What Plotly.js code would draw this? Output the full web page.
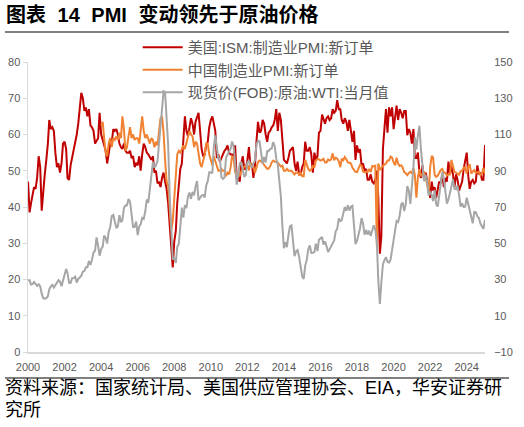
<!DOCTYPE html>
<html>
<head>
<meta charset="utf-8">
<script src="https://cdn.plot.ly/plotly-3.0.1.min.js"></script>
<style>
  body { margin: 0; background: #fff; }
  #page { position: relative; width: 524px; height: 427px; overflow: hidden; background: #fff;
          font-family: "Liberation Sans", "Noto Sans CJK SC", sans-serif; }
  #title { position: absolute; left: 6px; top: 4px; font-size: 20px; line-height: 22px; font-weight: bold; color: #000; word-spacing: 6px; }
  .rule { position: absolute; left: 5px; width: 504px; height: 2px; background: #808080; }
  #source { position: absolute; left: 5px; top: 378px; font-size: 18px; line-height: 21.5px; color: #000; }
  #chart { position: absolute; left: 0; top: 0; width: 524px; height: 427px; }
</style>
</head>
<body>
<div id="page">
  <div id="chart"></div>
  <div id="title">图表 14 PMI 变动领先于原油价格</div>
  <div class="rule" style="top:31px"></div>
  <div class="rule" style="top:377px"></div>
  <div id="source">资料来源：国家统计局、美国供应管理协会、EIA，华安证券研<br>究所</div>
</div>
<script>
// PMI 变动领先于原油价格

// year labels; each one sits at the end of its year, as in the source chart
var tickLabels = ["2000", "2002", "2004", "2006", "2008", "2010", "2012",
                  "2014", "2016", "2018", "2020", "2022", "2024"];

// 美国:ISM:制造业PMI:新订单, monthly from 2001-01
var usNewOrders = [
  47.0, 38.5, 41.0, 44.0, 45.5, 45.0, 48.0, 54.0, 51.0, 39.0, 45.5, 49.0,
  53.0, 57.5, 64.0, 61.5, 62.0, 61.0, 55.0, 51.0, 52.0, 49.5, 52.0, 57.5,
  58.0, 56.0, 48.0, 47.5, 51.5, 53.5, 56.0, 58.0, 60.0, 63.0, 66.5, 71.5,
  70.0, 66.5, 67.5, 65.0, 67.0, 62.5, 62.0, 61.0, 57.5, 58.5, 59.0, 66.0,
  60.0, 58.5, 57.0, 55.5, 52.0, 54.5, 57.5, 58.0, 61.5, 61.0, 61.5, 60.0,
  57.5, 56.5, 56.0, 57.5, 55.5, 55.0, 55.0, 55.5, 53.5, 54.0, 51.0, 52.0,
  51.5, 54.0, 50.0, 54.5, 57.5, 56.5, 55.0, 54.5, 53.5, 53.0, 54.0, 49.5,
  50.0, 46.5, 47.0, 45.5, 48.0, 49.5, 47.0, 45.0, 41.0, 36.0, 29.0, 23.3,
  30.5, 33.5, 41.0, 47.0, 50.5, 52.0, 58.0, 65.0, 61.0, 59.5, 62.0, 64.5,
  63.0, 60.0, 63.5, 65.0, 66.0, 61.0, 56.0, 54.0, 54.5, 57.0, 58.0, 62.0,
  64.0, 65.0, 62.5, 61.0, 53.5, 54.5, 52.5, 53.5, 55.0, 55.5, 56.0, 57.0,
  55.0, 54.5, 54.5, 54.0, 57.0, 48.0, 48.0, 47.0, 52.0, 54.0, 50.5, 50.5,
  53.0, 56.5, 51.5, 52.0, 48.0, 51.5, 58.0, 63.5, 60.5, 61.0, 64.0, 63.0,
  60.0, 58.0, 60.5, 61.0, 62.0, 62.5, 64.0, 67.0, 61.0, 66.0, 64.0, 58.0,
  53.0, 52.5, 52.0, 53.5, 55.5, 56.0, 56.5, 52.0, 50.0, 52.5, 49.0, 49.0,
  51.0, 52.0, 58.0, 55.5, 55.5, 56.5, 54.5, 49.5, 55.0, 53.0, 54.0, 60.5,
  61.0, 65.5, 64.0, 63.0, 64.5, 65.0, 64.0, 64.5, 67.0, 66.0, 66.5, 69.5,
  67.0, 67.0, 64.0, 63.0, 64.5, 63.5, 61.0, 64.0, 61.0, 58.0, 61.0, 53.0,
  57.0, 55.0, 56.0, 51.5, 52.0, 50.0, 50.5, 47.5, 47.5, 49.0, 47.0, 46.5,
  47.5, 50.0, 42.5, 27.1, 32.0, 56.0, 61.5, 67.0, 60.5, 67.5, 65.0, 67.5,
  61.5, 64.5, 68.0, 64.0, 67.0, 66.0, 64.5, 66.5, 66.5, 59.8, 61.5, 60.5,
  57.5, 61.5, 53.5, 53.5, 55.0, 49.5, 48.0, 51.5, 47.5, 49.5, 47.5, 45.5,
  42.5, 47.0, 44.5, 45.5, 42.5, 45.5, 47.0, 46.5, 49.0, 45.5, 48.0, 47.0,
  52.5, 49.0, 51.5, 49.0, 45.5, 49.0, 47.5, 44.5, 46.0, 47.0, 50.5, 52.5,
  55.0, 48.5, 45.0, 47.0, 47.5, 46.5, 47.0, 51.5, 49.0, 49.5, 47.5, 47.5,
  57.1
];

// 中国制造业PMI:新订单, monthly from 2005-01
var cnNewOrders = [
  62.5, 63.5, 59.0, 55.0, 54.0, 57.5, 59.0, 56.5, 59.0, 58.5, 59.5, 58.5,
  60.5, 59.0, 65.0, 61.5, 55.5, 56.5, 59.5, 62.0, 59.0, 60.0, 58.5, 59.0,
  59.0, 57.5, 61.0, 65.0, 61.0, 59.0, 60.0, 58.5, 57.5, 59.0, 58.5, 56.5,
  58.0, 57.0, 61.0, 64.5, 65.0, 60.5, 53.0, 47.0, 46.0, 41.0, 33.5, 36.0,
  43.0, 50.5, 54.5, 55.5, 55.0, 56.0, 57.0, 56.0, 57.5, 59.5, 61.0, 60.0,
  59.5, 56.5, 58.0, 57.5, 54.5, 52.0, 51.0, 52.5, 54.5, 57.5, 57.5, 54.5,
  53.0, 51.5, 54.0, 52.5, 51.0, 50.0, 50.0, 50.5, 50.0, 50.0, 48.5, 49.5,
  49.0, 51.0, 54.0, 53.5, 49.5, 49.2, 49.0, 48.7, 49.8, 50.4, 51.2, 51.2,
  51.6, 50.1, 52.3, 51.0, 51.1, 49.4, 50.6, 52.4, 52.8, 52.5, 52.3, 51.6,
  50.9, 50.5, 50.6, 51.2, 52.3, 52.8, 52.5, 52.5, 52.2, 51.6, 51.2, 51.4,
  50.0, 50.0, 50.5, 50.0, 50.0, 50.0, 49.5, 49.0, 49.5, 49.5, 49.0, 49.5,
  48.5, 48.5, 53.0, 51.5, 50.5, 50.0, 50.4, 51.3, 50.9, 52.8, 53.2, 53.2,
  52.8, 53.0, 53.3, 52.3, 52.3, 53.1, 52.8, 53.1, 54.8, 52.9, 53.6, 53.4,
  52.6, 51.0, 53.3, 52.9, 53.8, 53.2, 52.3, 52.2, 52.0, 50.8, 50.1, 49.7,
  49.6, 50.6, 51.6, 51.4, 49.8, 49.6, 49.8, 49.7, 50.5, 49.6, 51.3, 51.2,
  51.4, 29.3, 52.0, 50.2, 50.9, 51.4, 51.7, 52.0, 52.8, 52.8, 53.9, 53.6,
  52.3, 51.5, 53.6, 52.0, 51.3, 51.5, 50.9, 49.6, 49.3, 48.8, 49.4, 49.7,
  49.3, 50.7, 48.8, 42.6, 48.2, 50.4, 48.5, 49.2, 49.8, 48.1, 46.4, 43.9,
  50.9, 54.1, 53.6, 48.8, 48.3, 48.6, 49.5, 50.2, 50.5, 49.5, 49.4, 48.7,
  49.0, 49.0, 53.0, 51.1, 49.6, 49.5, 49.3, 48.9, 49.9, 50.0, 50.8, 51.0,
  49.2, 51.1, 51.8, 49.2, 49.8, 50.2, 49.4, 49.5, 49.7, 48.8, 49.2, 50.8,
  49.2
];

// 现货价(FOB):原油:WTI:当月值, USD/bbl, monthly from 2001-01 (right axis)
var wtiPrice = [
  29.59, 29.61, 27.25, 27.49, 28.63, 27.60, 26.43, 27.37, 26.20, 22.17, 19.64, 19.39,
  19.72, 20.72, 24.53, 26.18, 27.04, 25.52, 26.97, 28.39, 29.66, 28.84, 26.35, 29.46,
  32.95, 35.83, 33.51, 28.17, 28.11, 30.66, 30.75, 31.57, 28.31, 30.34, 31.11, 32.13,
  34.31, 34.69, 36.74, 36.75, 40.28, 38.03, 40.78, 44.90, 45.94, 53.28, 48.47, 43.15,
  46.84, 48.15, 54.19, 52.98, 49.83, 56.35, 59.00, 64.99, 65.59, 62.26, 58.32, 59.41,
  65.49, 61.63, 62.69, 69.44, 70.84, 70.95, 74.41, 73.04, 63.80, 58.89, 59.08, 61.96,
  54.51, 59.28, 60.44, 63.98, 63.46, 67.49, 74.12, 72.36, 79.92, 85.80, 94.77, 91.69,
  92.97, 95.39, 105.45, 112.58, 125.40, 133.88, 133.37, 116.67, 104.11, 76.61, 57.31, 41.12,
  41.71, 39.09, 47.94, 49.65, 59.03, 69.64, 64.15, 71.05, 69.41, 75.72, 77.99, 74.47,
  78.33, 76.39, 81.20, 84.29, 73.74, 75.34, 76.32, 76.60, 75.24, 81.89, 84.25, 89.15,
  89.17, 88.58, 102.86, 109.53, 100.90, 96.26, 97.30, 86.33, 85.52, 86.32, 97.16, 98.56,
  100.27, 102.20, 106.16, 103.32, 94.66, 82.30, 87.90, 94.13, 94.51, 89.49, 86.53, 87.86,
  94.76, 95.31, 92.94, 92.02, 94.51, 95.77, 104.67, 106.57, 106.29, 100.54, 93.86, 97.63,
  94.62, 100.82, 100.80, 102.07, 102.18, 105.79, 103.59, 96.54, 93.21, 84.40, 75.79, 59.29,
  47.22, 50.58, 47.82, 54.45, 59.27, 59.82, 50.90, 42.87, 45.48, 46.22, 42.44, 37.19,
  31.68, 30.32, 37.55, 40.75, 46.71, 48.76, 44.65, 44.72, 45.18, 49.78, 45.66, 51.97,
  52.50, 53.47, 49.33, 51.06, 48.48, 45.18, 46.63, 48.04, 49.82, 51.58, 56.64, 57.88,
  63.70, 62.23, 62.73, 66.25, 69.98, 67.87, 70.98, 68.06, 70.23, 70.75, 56.96, 49.52,
  51.38, 54.95, 58.15, 63.86, 60.83, 54.66, 57.35, 54.81, 56.95, 53.96, 57.03, 59.88,
  57.52, 50.54, 29.21, 16.55, 28.56, 38.31, 40.71, 42.34, 39.63, 39.40, 40.94, 47.02,
  52.00, 59.04, 62.33, 61.72, 65.17, 71.38, 72.49, 67.73, 71.65, 81.48, 79.15, 71.71,
  83.22, 91.64, 108.50, 101.78, 109.55, 114.84, 101.62, 93.67, 84.26, 87.55, 84.37, 76.44,
  78.12, 76.83, 73.28, 79.45, 71.58, 70.25, 76.07, 81.39, 89.43, 85.64, 77.69, 71.90,
  74.15, 77.25, 81.28, 85.35, 80.02, 79.77, 81.80, 76.68, 70.24, 71.99, 69.95, 70.12,
  75.10, 71.53, 68.24, 63.54, 61.03, 67.33, 67.17, 64.86, 63.96, 60.89, 59.50, 57.90,
  63.0
];

// month-start dates for a series beginning at startYear-startMonth
function monthDates(startYear, startMonth, count) {
  var out = [];
  for (var i = 0; i < count; i++) {
    var m = startMonth - 1 + i;
    var y = startYear + Math.floor(m / 12);
    var mm = (m % 12) + 1;
    out.push(y + "-" + (mm < 10 ? "0" + mm : mm) + "-01");
  }
  return out;
}

var tickFont = {family: "Liberation Sans, Arial, sans-serif", size: 11, color: "#595959"};

var traces = [
  {
    name: "美国:ISM:制造业PMI:新订单",
    type: "scatter", mode: "lines",
    x: monthDates(2001, 1, usNewOrders.length), y: usNewOrders,
    line: {color: "#C00000", width: 2},
  },
  {
    name: "中国制造业PMI:新订单",
    type: "scatter", mode: "lines",
    x: monthDates(2005, 1, cnNewOrders.length), y: cnNewOrders,
    line: {color: "#F08232", width: 2},
  },
  {
    name: "现货价(FOB):原油:WTI:当月值",
    type: "scatter", mode: "lines", yaxis: "y2",
    x: monthDates(2001, 1, wtiPrice.length), y: wtiPrice,
    line: {color: "#A6A6A6", width: 2},
  },
];

var layout = {
  width: 524, height: 427,
  margin: {l: 28, r: 39, t: 62, b: 75, pad: 0, autoexpand: false},
  paper_bgcolor: "rgba(0,0,0,0)",
  plot_bgcolor: "rgba(0,0,0,0)",
  hovermode: false,
  showlegend: true,
  legend: {
    x: 0.24, y: 1.107, xanchor: "left", yanchor: "top",
    bgcolor: "rgba(0,0,0,0)", itemwidth: 40,
    font: {family: "Liberation Sans, Noto Sans CJK SC, sans-serif", size: 15, color: "#595959"},
  },
  xaxis: {
    type: "date",
    range: ["2000-12-31", "2026-01-01"],
    tickvals: tickLabels.map(function(t) { return t + "-12-31"; }),
    ticktext: tickLabels,
    showgrid: false, zeroline: false,
    showline: true, linecolor: "#d9d9d9", linewidth: 1.5,
    ticks: "outside", ticklen: 4, tickcolor: "rgba(0,0,0,0)",
    tickfont: tickFont,
  },
  yaxis: {
    range: [0, 80], dtick: 10,
    showgrid: false, zeroline: false,
    showline: true, linecolor: "#d9d9d9", linewidth: 1.5,
    ticks: "outside", ticklen: 4, tickcolor: "#d9d9d9",
    tickfont: tickFont,
  },
  yaxis2: {
    overlaying: "y", side: "right",
    range: [-10, 150], tick0: -10, dtick: 20,
    showgrid: false, zeroline: false, showline: false,
    ticks: "outside", ticklen: 6, tickcolor: "rgba(0,0,0,0)",
    tickfont: tickFont,
  },
};

Plotly.newPlot("chart", traces, layout, {staticPlot: true, displayModeBar: false});
</script>
</body>
</html>
